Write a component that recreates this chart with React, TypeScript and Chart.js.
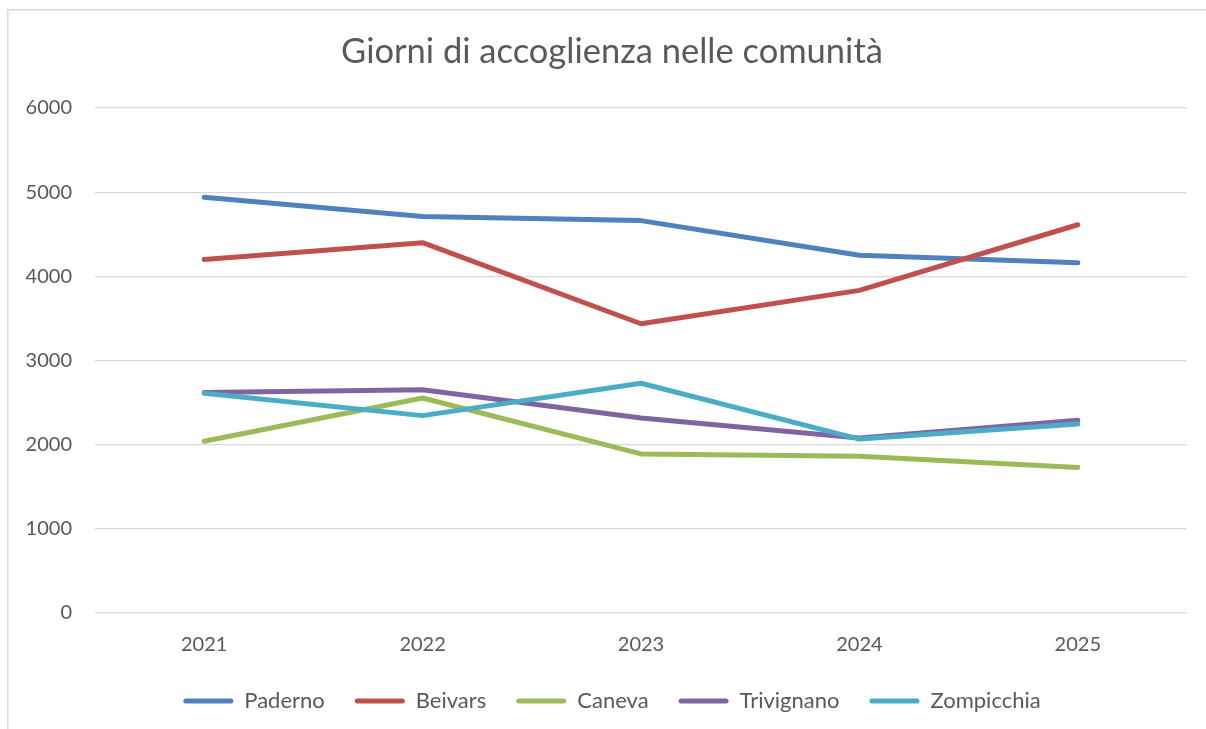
import React, { useEffect, useRef } from "react";
import { Chart, registerables } from "chart.js";

Chart.register(...registerables);

const years = ["2021", "2022", "2023", "2024", "2025"];
const seriesNames = ["Paderno", "Beivars", "Caneva", "Trivignano", "Zompicchia"];
const paderno = [4940, 4710, 4662, 4250, 4160];
const beivars = [4200, 4400, 3437, 3833, 4613];
const caneva = [2040, 2555, 1890, 1862, 1730];
const trivignano = [2620, 2652, 2318, 2078, 2290];
const zompicchia = [2610, 2345, 2730, 2066, 2245];
const seriesColors = ["#4f81bd", "#c0504d", "#9bbb59", "#8064a2", "#4bacc6"];
const yTicks = [0, 1000, 2000, 3000, 4000, 5000, 6000];
const titleText = "Giorni di accoglienza nelle comunità";

const FONT = "Lato, 'Open Sans', sans-serif";
const TEXT = "#595959";
const CANVAS_W = 1224;
const CANVAS_H = 729;

export default function App() {
  const ref = useRef<HTMLCanvasElement | null>(null);
  useEffect(() => {
    if (!ref.current) return;
    const values = [paderno, beivars, caneva, trivignano, zompicchia];
    const frame = {
      id: "frame",
      beforeDraw(chart: any) {
        const ctx = chart.ctx;
        ctx.save();
        ctx.fillStyle = "#ffffff";
        ctx.fillRect(0, 0, chart.width, chart.height);
        ctx.strokeStyle = "#d9d9d9";
        ctx.lineWidth = 1.5;
        ctx.strokeRect(7.75, 9.75, chart.width + 20, chart.height + 20);
        ctx.restore();
      },
    };
    const chart = new Chart(ref.current, {
      type: "line",
      data: {
        labels: years,
        datasets: seriesNames.map((name, i) => ({
          label: name,
          data: values[i],
          yAxisID: "y",
          borderColor: seriesColors[i],
          backgroundColor: seriesColors[i],
          borderWidth: 5,
          pointRadius: 0,
          pointHoverRadius: 0,
          borderCapStyle: "round" as const,
          borderJoinStyle: "round" as const,
          tension: 0,
          order: seriesNames.length - i,
        })),
      },
      options: {
        responsive: false,
        animation: false,
        devicePixelRatio: 1,
        layout: { padding: { left: 0, right: 0, top: 0, bottom: 7 } },
        plugins: {
          title: {
            display: true,
            text: titleText,
            color: TEXT,
            font: { family: FONT, size: 34.5, weight: "normal" },
            padding: { top: 31, bottom: 35.6 },
          },
          legend: {
            display: true,
            position: "bottom",
            labels: {
              color: TEXT,
              font: { family: FONT, size: 22 },
              boxWidth: 50,
              boxHeight: 5,
              padding: 30,
              generateLabels: () =>
                seriesNames.map((name, i) => ({
                  text: name,
                  fillStyle: seriesColors[i],
                  strokeStyle: seriesColors[i],
                  lineWidth: 0,
                  borderRadius: 2.5,
                  datasetIndex: i,
                  hidden: false,
                  fontColor: TEXT,
                })),
            },
          },
          tooltip: { enabled: false },
        },
        scales: {
          x: {
            offset: true,
            grid: { display: false, drawTicks: false },
            border: { display: false },
            ticks: {
              color: TEXT,
              font: { family: FONT, size: 20 },
              padding: 20,
              maxRotation: 0,
            },
            afterFit(scale: any) {
              scale.height = 47;
            },
          },
          y: {
            position: "left",
            min: 0,
            max: 6000,
            afterBuildTicks(scale: any) {
              scale.ticks = yTicks.map((v) => ({ value: v }));
            },
            grid: { color: "#d9d9d9", lineWidth: 1.3, drawTicks: false },
            border: { display: false },
            ticks: {
              color: TEXT,
              font: { family: FONT, size: 20 },
              padding: 23,
              callback: (v: any) => String(v),
            },
            afterFit(scale: any) {
              scale.width = 95;
            },
          },
          yRight: {
            position: "right",
            display: true,
            min: 0,
            max: 6000,
            grid: { display: false, drawTicks: false },
            border: { display: false },
            ticks: { display: false },
            afterFit(scale: any) {
              scale.width = 37;
            },
          },
        },
      },
      plugins: [frame],
    });
    return () => chart.destroy();
  }, []);
  return (
    <div style={{ position: "fixed", left: 0, top: 0, width: 1206, height: 729, overflow: "hidden" }}>
      <canvas ref={ref} width={CANVAS_W} height={CANVAS_H} style={{ display: "block" }} />
    </div>
  );
}
